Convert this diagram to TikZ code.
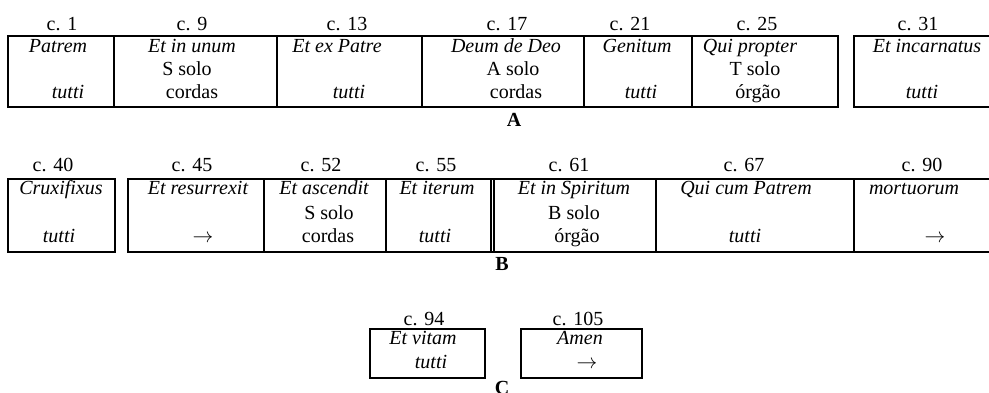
\documentclass[tikz,border=0pt]{standalone}
\usepackage{fontspec}
\setmainfont{Liberation Serif}
\usepackage{tikz}
\newcommand{\cellfont}{\fontsize{20}{23}\selectfont}

\begin{document}
\begin{tikzpicture}[x=1pt, y=-1pt, line width=1.5pt,
  bar/.style={anchor=base, inner sep=0pt, font=\cellfont},
  sect/.style={anchor=base, inner sep=0pt, font=\cellfont\itshape},
  forces/.style={anchor=base, inner sep=0pt, font=\cellfont},
  part/.style={anchor=base, inner sep=0pt, font=\cellfont\bfseries}]
\useasboundingbox (0,0) rectangle (989,393);

% rows: A top 36 / bottom 107 ; B top 179 / bottom 252 ; C top 329 / bottom 378

%% ── part A boxes ─────────────────────────────────────────────────
\draw (8,36) rectangle (838,107);
\foreach \x in {114,277,422,584,692}{\draw (\x,36) -- (\x,107);}
\draw (989,36) -- (854,36) -- (854,107) -- (989,107);

%% ── part B boxes ─────────────────────────────────────────────────
\draw (8,179) rectangle (115,252);
\draw (989,179) -- (128,179) -- (128,252) -- (989,252);
\foreach \x in {264,386,491,494,656,854}{\draw (\x,179) -- (\x,252);}

%% ── part C boxes ─────────────────────────────────────────────────
\draw (370,329) rectangle (485,378);
\draw (521,329) rectangle (642,378);

%% ── part A texts ─────────────────────────────────────────────────
\node[bar] (c1) at (62,31) {c. 1};    \node[sect] (patrem) at (58,53) {Patrem};          \node[sect] (tuttiA1) at (68,99) {tutti};
\node[bar] (c9) at (192,31) {c. 9};   \node[sect] (inunum) at (192,53) {Et in unum};     \node[forces] (ssoloA) at (187,76) {S solo};  \node[forces] (cordasA2) at (192,99) {cordas};
\node[bar] (c13) at (347,31) {c. 13}; \node[sect] (expatre) at (337,53) {Et ex Patre};   \node[sect] (tuttiA3) at (349,99) {tutti};
\node[bar] (c17) at (507,31) {c. 17}; \node[sect] (deum) at (506,53) {Deum de Deo};      \node[forces] (asolo) at (513,76) {A solo};   \node[forces] (cordasA4) at (516,99) {cordas};
\node[bar] (c21) at (630,31) {c. 21}; \node[sect] (genitum) at (637,53) {Genitum};       \node[sect] (tuttiA5) at (641,99) {tutti};
\node[bar] (c25) at (757,31) {c. 25}; \node[sect] (propter) at (750,53) {Qui propter};   \node[forces] (tsolo) at (755,76) {T solo};   \node[forces] (orgaoA6) at (758,99) {órgão};
\node[bar] (c31) at (918,31) {c. 31}; \node[sect] (incarn) at (927,53) {Et incarnatus};  \node[sect] (tuttiA7) at (922,99) {tutti};
\node[part] (partA) at (514,127) {A};

%% ── part B texts ─────────────────────────────────────────────────
\node[bar] (c40) at (53,172) {c. 40};  \node[sect] (cruxi) at (61,195) {Cruxifixus};        \node[sect] (tuttiB1) at (59,243) {tutti};
\node[bar] (c45) at (192,172) {c. 45}; \node[sect] (resurr) at (198,195) {Et resurrexit};   \node[forces] (goB2) at (203,243) {$\rightarrow$};
\node[bar] (c52) at (321,172) {c. 52}; \node[sect] (ascend) at (324,195) {Et ascendit};     \node[forces] (ssoloB) at (329,219) {S solo}; \node[forces] (cordasB3) at (328,243) {cordas};
\node[bar] (c55) at (436,172) {c. 55}; \node[sect] (iterum) at (437,195) {Et iterum};       \node[sect] (tuttiB4) at (435,243) {tutti};
\node[bar] (c61) at (569,172) {c. 61}; \node[sect] (spirit) at (574,195) {Et in Spiritum};  \node[forces] (bsolo) at (574,219) {B solo};  \node[forces] (orgaoB5) at (577,243) {órgão};
\node[bar] (c67) at (744,172) {c. 67}; \node[sect] (cumpat) at (746,195) {Qui cum Patrem};  \node[sect] (tuttiB6) at (745,243) {tutti};
\node[bar] (c90) at (922,172) {c. 90}; \node[sect] (mortuo) at (914,195) {mortuorum};       \node[forces] (goB7) at (935,243) {$\rightarrow$};
\node[part] (partB) at (502,270) {B};

%% ── part C texts ─────────────────────────────────────────────────
\node[bar] (c94) at (424,325) {c. 94};   \node[sect] (vitam) at (423,344) {Et vitam}; \node[sect] (tuttiC1) at (431,368) {tutti};
\node[bar] (c105) at (578,325) {c. 105}; \node[sect] (amen) at (580,344) {Amen};      \node[forces] (goC2) at (587,368) {$\rightarrow$};
\node[part] (partC) at (502,394) {C};

\end{tikzpicture}
\end{document}
